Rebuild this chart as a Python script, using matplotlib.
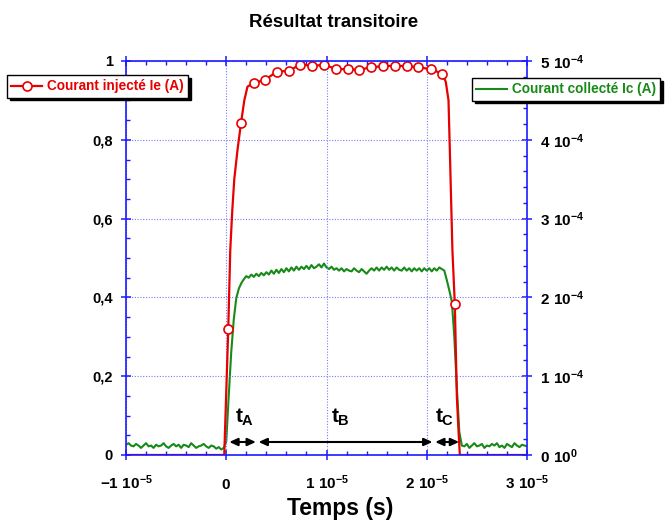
import numpy as np
import matplotlib
matplotlib.use("Agg")
import matplotlib.pyplot as plt
from matplotlib.patches import ArrowStyle

plt.rcParams['font.family'] = ['Liberation Sans', 'DejaVu Sans']
plt.rcParams['font.weight'] = 'bold'
plt.rcParams['mathtext.fontset'] = 'custom'
for key in ('rm', 'it', 'bf', 'sf'):
    plt.rcParams['mathtext.' + key] = 'Liberation Sans:bold'

# ---------------------------------------------------------------- data
# Injected current Ie (A), time in microseconds
ie_t_us = [-10.0, -0.2, 0.2, 0.4, 0.6, 0.8, 1.13, 1.47, 1.8, 2.12, 2.72,
           3.86, 5.05, 6.25, 7.38, 8.57, 9.80, 10.94, 12.13, 13.29, 14.46,
           15.68, 16.88, 18.02, 19.17, 20.47, 21.57, 21.9, 22.17, 22.3,
           22.56, 22.8, 23.0, 23.15, 23.3, 30.0]
ie_A = [0.0, 0.0, 0.32, 0.52, 0.62, 0.70, 0.776, 0.842, 0.90, 0.935, 0.944,
        0.952, 0.973, 0.975, 0.991, 0.988, 0.990, 0.980, 0.979, 0.978, 0.984,
        0.987, 0.988, 0.987, 0.984, 0.979, 0.967, 0.947, 0.90, 0.776,
        0.52, 0.382, 0.15, 0.07, 0.0, 0.0]
# samples of Ie that carry a circle marker
ie_marker_idx = [2, 7] + list(range(10, 27)) + [31]

# Collected current Ic (uA), sampled every 0.25 us starting at -10 us
ic_start_us = -10.0
ic_step_us = 0.25
ic_uA = [
    13, 15, 12, 11, 14, 12, 9, 12, 15, 11,
    12, 9, 13, 11, 12, 15, 11, 9, 12, 14,
    11, 13, 9, 13, 12, 10, 15, 12, 9, 11,
    12, 14, 11, 9, 12, 11, 8, 10, 7, 9,
    17, 76, 131, 172, 199, 211, 218, 223, 227,
    225, 229, 226, 230, 227, 231, 228, 232, 229, 234,
    230, 235, 231, 236, 232, 237, 233, 238, 234, 239,
    235, 239, 236, 240, 236, 241, 237, 239, 242, 238,
    243, 238, 236, 239, 235, 237, 234, 237, 233, 236,
    234, 233, 237, 234, 232, 236, 233, 230, 234, 237,
    234, 238, 234, 238, 235, 239, 235, 238, 234, 238,
    235, 234, 238, 234, 237, 233, 237, 234, 237, 233,
    237, 234, 237, 233, 237, 234, 238, 236,
    234, 222, 209, 195, 150, 86, 29, 12,
    11, 14, 9, 12, 15, 11, 12, 14, 9, 12, 11, 14, 12,
    15, 10, 12, 9, 14, 12, 10, 15, 12, 10, 13, 12, 11,
]

# Axis ticks and labels
x_ticks = [-1e-5, 0.0, 1e-5, 2e-5, 3e-5]
x_tick_labels = [r'$-1\ 10^{-5}$', r'$0$', r'$1\ 10^{-5}$',
                 r'$2\ 10^{-5}$', r'$3\ 10^{-5}$']
yl_ticks = [0.0, 0.2, 0.4, 0.6, 0.8, 1.0]
yl_tick_labels = ['0', '0,2', '0,4', '0,6', '0,8', '1']
yr_ticks = [0.0, 1e-4, 2e-4, 3e-4, 4e-4, 5e-4]
yr_tick_labels = [r'$0\ 10^{0}$', r'$1\ 10^{-4}$', r'$2\ 10^{-4}$',
                  r'$3\ 10^{-4}$', r'$4\ 10^{-4}$', r'$5\ 10^{-4}$']

# Rise / plateau / fall windows marked on the plot (us)
t_windows_us = {'A': (0.3, 2.96), 'B': (3.22, 20.57), 'C': (20.84, 23.23)}
t_label_x_us = {'A': 1.85, 'B': 11.35, 'C': 21.8}

# ---------------------------------------------------------------- style
BLUE = '#1a1aff'
GRID = '#7a7aff'
RED = '#e60000'
GREEN = '#178a17'

W, H = 667, 522
fig = plt.figure(figsize=(W / 100, H / 100), dpi=100)
fig.patch.set_facecolor('white')
ax = fig.add_axes([126 / W, 1 - 455 / H, 401 / W, 394 / H])
ax2 = ax.twinx()
ax.set_zorder(ax2.get_zorder() + 1)
ax.patch.set_visible(False)

# collected current on the right axis
ic_t_s = (ic_start_us + ic_step_us * np.arange(len(ic_uA))) * 1e-6
ic_A = np.asarray(ic_uA) * 1e-6
line_ic, = ax2.plot(ic_t_s, ic_A, color=GREEN, lw=1.5,
                    label='Courant collecté Ic (A)')

# injected current on the left axis
ie_t_s = np.asarray(ie_t_us) * 1e-6
line_ie, = ax.plot(ie_t_s, ie_A, color=RED, lw=1.6, marker='o',
                   markevery=ie_marker_idx, ms=6.5, mfc='white', mec=RED,
                   mew=1.2, label='Courant injecté Ie (A)')

ax.set_xlim(-1e-5, 3e-5)
ax.set_ylim(0, 1)
ax2.set_ylim(0, 5e-4)

ax.set_xticks(x_ticks, x_tick_labels)
ax.set_xticks(np.arange(-1e-5, 3.01e-5, 0.2e-5), minor=True)
ax.set_yticks(yl_ticks, yl_tick_labels)
ax.set_yticks(np.arange(0, 1.001, 0.05), minor=True)
ax2.set_yticks(yr_ticks, yr_tick_labels)
ax2.set_yticks(np.arange(0, 5.01e-4, 0.2e-4), minor=True)

ax.tick_params(which='major', direction='inout', length=7, width=1.1,
               color=BLUE, labelsize=11, top=True, bottom=True,
               left=True, right=False)
ax.tick_params(which='minor', direction='in', length=3, width=1.0,
               color=BLUE, top=True, bottom=True, left=True, right=False)
ax.tick_params(axis='x', which='major', pad=21)
ax.tick_params(axis='y', which='major', pad=6, labelsize=10.5)
ax2.tick_params(which='major', direction='inout', length=7, width=1.1,
                color=BLUE, labelsize=11, pad=5.5)
ax2.tick_params(which='minor', direction='in', length=3, width=1.0,
                color=BLUE)
for lab in ax.get_xticklabels():
    lab.set_verticalalignment('baseline')

for name, sp in ax.spines.items():
    sp.set_color(BLUE)
    sp.set_linewidth(1.2)
ax.spines['right'].set_visible(False)
for name, sp in ax2.spines.items():
    sp.set_visible(name == 'right')
    sp.set_color(BLUE)
    sp.set_linewidth(1.2)

ax.grid(True, which='major', color=GRID, linestyle=(0, (1, 1.5)),
        linewidth=0.8)

# timing arrows and labels
arrow = ArrowStyle('<|-|>', head_length=0.55, head_width=0.25)
for key, (t0, t1) in t_windows_us.items():
    ax.annotate('', xy=(t1 * 1e-6, 0.033), xytext=(t0 * 1e-6, 0.033),
                arrowprops=dict(arrowstyle=arrow, color='black', lw=1.5,
                                shrinkA=0, shrinkB=0, mutation_scale=9))
    ax.text(t_label_x_us[key] * 1e-6, 0.081, r'$t_{%s}$' % key,
            fontsize=15, ha='center', va='baseline', color='black')

# titles
fig.text(0.5, 1 - 27 / H, 'Résultat transitoire', ha='center',
         va='baseline', fontsize=13.4, fontweight='bold')
fig.text(340.5 / W, 1 - 515 / H, 'Temps (s)', ha='center', va='baseline',
         fontsize=16.5, fontweight='bold')

# legends
shadow = {'facecolor': 'black', 'edgecolor': 'black', 'alpha': 1.0}
common = dict(loc='upper left', frameon=True, fancybox=False,
              shadow=shadow, framealpha=1, edgecolor='black',
              prop={'weight': 'bold', 'size': 9.8}, borderpad=0.32,
              handlelength=2.25, handletextpad=0.35, borderaxespad=0,
              numpoints=1)
leg1 = fig.legend(handles=[line_ie], labelcolor=RED,
                  bbox_to_anchor=(7 / W, 1 - 75 / H), **common)
leg2 = fig.legend(handles=[line_ic], labelcolor=GREEN,
                  bbox_to_anchor=(472 / W, 1 - 78 / H), **common)
for leg in (leg1, leg2):
    leg.get_frame().set_linewidth(1.0)

fig.savefig('out.png', dpi=100, facecolor='white')
